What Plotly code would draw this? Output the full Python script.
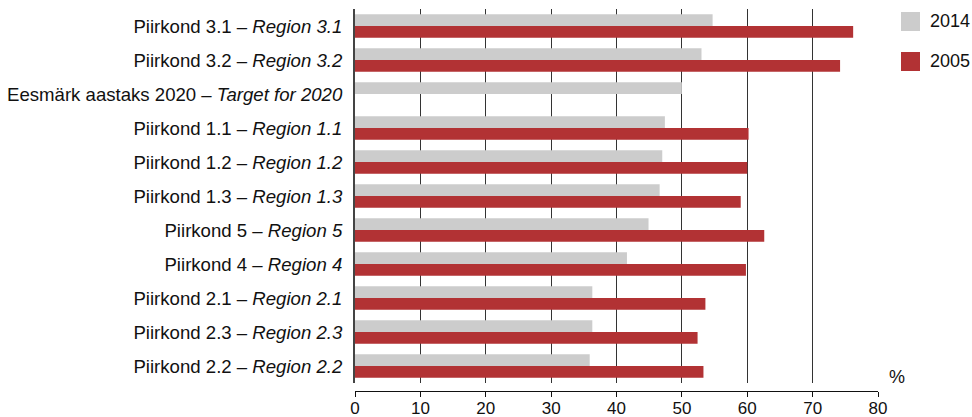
import plotly.graph_objects as go

categories = [
    "Piirkond 3.1 – <i>Region 3.1</i>",
    "Piirkond 3.2 – <i>Region 3.2</i>",
    "Eesmärk aastaks 2020 – <i>Target for 2020</i>",
    "Piirkond 1.1 – <i>Region 1.1</i>",
    "Piirkond 1.2 – <i>Region 1.2</i>",
    "Piirkond 1.3 – <i>Region 1.3</i>",
    "Piirkond 5 – <i>Region 5</i>",
    "Piirkond 4 – <i>Region 4</i>",
    "Piirkond 2.1 – <i>Region 2.1</i>",
    "Piirkond 2.3 – <i>Region 2.3</i>",
    "Piirkond 2.2 – <i>Region 2.2</i>",
]
values_2014 = [54.7, 53.0, 50.0, 47.4, 47.0, 46.6, 44.9, 41.6, 36.3, 36.3, 35.9]
values_2005 = [76.2, 74.2, None, 60.2, 60.0, 59.0, 62.6, 59.8, 53.6, 52.4, 53.3]
series_names = ["2014", "2005"]
x_ticks = [0, 10, 20, 30, 40, 50, 60, 70, 80]

GRAY = "#cccccc"
RED = "#b23234"
FONT = "Liberation Sans, Arial, sans-serif"
FS = 18.6

fig = go.Figure()
fig.add_trace(go.Bar(y=categories, x=values_2014, orientation="h", name=series_names[0],
                     marker=dict(color=GRAY, line=dict(width=0))))
fig.add_trace(go.Bar(y=categories, x=values_2005, orientation="h", name=series_names[1],
                     marker=dict(color=RED, line=dict(width=0))))

W, H = 972, 417
t, b = 9, 26
paper_h = H - t - b
dom0 = (391 - 383) / paper_h

fig.update_layout(
    width=W, height=H,
    margin=dict(l=355, r=94, t=t, b=b, autoexpand=False),
    paper_bgcolor="white", plot_bgcolor="white",
    barmode="group", bargap=0.31, bargroupgap=0,
    showlegend=False,
    font=dict(family=FONT, size=FS, color="#111"),
    xaxis=dict(
        range=[0, 80], tickvals=x_ticks, ticktext=[str(v) for v in x_ticks],
        showgrid=True, gridcolor="#333", gridwidth=1, zeroline=False,
        showline=True, linecolor="#111", linewidth=1,
        ticks="outside", ticklen=5, tickcolor="#111", tickwidth=1,
        anchor="free", position=0, automargin=False,
        ticklabelstandoff=-3,
        tickfont=dict(size=17, family=FONT, color="#111"),
    ),
    yaxis=dict(
        domain=[dom0, 1], autorange="reversed",
        showline=True, linecolor="#444", linewidth=2,
        showgrid=False, zeroline=False, ticks="",
        ticklabelstandoff=7, automargin=False,
        tickfont=dict(size=FS, family=FONT, color="#111"),
    ),
)

# legend (custom, matching reference layout)
leg_items = [(series_names[0], GRAY, 12), (series_names[1], RED, 52)]
for name, col, ytop in leg_items:
    fig.add_shape(type="rect", xref="paper", yref="paper",
                  x0=(901 - 355) / 523, x1=(920 - 355) / 523,
                  y0=1 - (ytop + 19 - t) / paper_h, y1=1 - (ytop - t) / paper_h,
                  fillcolor=col, line=dict(width=0))
    fig.add_annotation(xref="paper", yref="paper", x=(928 - 355) / 523,
                       y=1 - (ytop + 9.5 - t) / paper_h, text=name, showarrow=False,
                       xanchor="left", yanchor="middle",
                       font=dict(size=18, family=FONT, color="#111"))

fig.add_annotation(xref="paper", yref="paper", x=(887 - 355) / 523,
                   y=1 - (377 - t) / paper_h, text="%", showarrow=False,
                   xanchor="left", yanchor="middle",
                   font=dict(size=18, family=FONT, color="#111"))

fig.write_html("out.html", config={"displayModeBar": False},
               post_script="document.body.style.margin='0';document.body.style.padding='0';document.body.style.overflow='hidden';")
